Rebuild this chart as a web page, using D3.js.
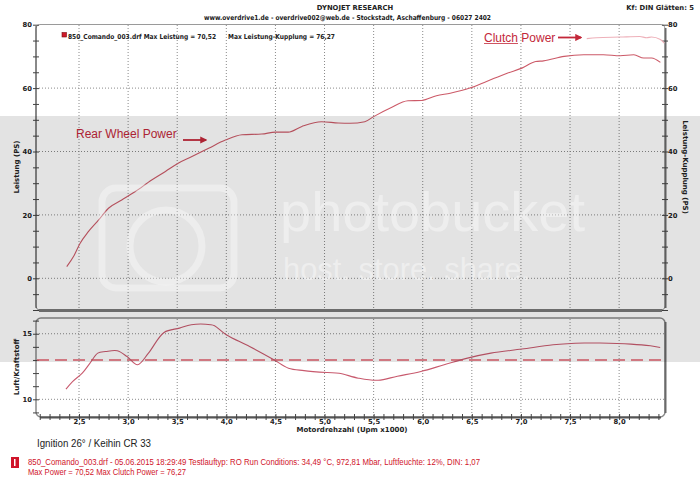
<!DOCTYPE html>
<html><head><meta charset="utf-8">
<script src="https://cdn.jsdelivr.net/npm/d3@7/dist/d3.min.js"></script>
<style>body{margin:0;background:#fff}svg{display:block}</style>
</head><body>
<svg id="c" width="700" height="480"></svg>
<script>
// ---- data ----
const rwpRpm = [2.375, 2.45, 2.51, 2.595, 2.70, 2.80, 2.935, 3.07, 3.24, 3.38, 3.51, 3.65, 3.82, 3.99, 4.16, 4.36, 4.50, 4.63, 4.77, 4.97, 5.14, 5.26, 5.41, 5.50, 5.67, 5.85, 5.99, 6.14, 6.28, 6.48, 6.65, 6.86, 7.01, 7.15, 7.23, 7.44, 7.64, 7.84, 8.01, 8.15, 8.25, 8.33, 8.42];
const rwpPS  = [3.7, 7.2, 11.0, 14.7, 18.4, 22.1, 24.7, 27.3, 31.0, 33.7, 36.3, 38.4, 41.0, 43.6, 45.3, 45.5, 46.1, 46.1, 47.9, 49.4, 49.0, 48.9, 49.4, 51.0, 53.7, 56.0, 56.1, 57.6, 58.4, 60.0, 62.1, 64.7, 66.3, 68.4, 68.6, 70.0, 70.5, 70.52, 70.2, 70.5, 69.5, 69.5, 68.1];
const clutchRpm = [7.67, 7.77, 8.01, 8.21, 8.28, 8.33, 8.42, 8.46];
const clutchPS  = [75.6, 75.9, 76.1, 76.27, 75.9, 76.1, 75.3, 74.2];
const afrRpm = [2.367, 2.434, 2.533, 2.612, 2.691, 2.771, 2.890, 2.989, 3.096, 3.207, 3.366, 3.523, 3.643, 3.840, 3.880, 3.999, 4.237, 4.475, 4.633, 4.791, 5.030, 5.148, 5.346, 5.545, 5.742, 5.981, 6.218, 6.456, 6.694, 7.010, 7.328, 7.645, 7.803, 8.120, 8.318, 8.418];
const afrVal = [10.77, 11.35, 11.99, 12.76, 13.52, 13.64, 13.70, 13.26, 12.63, 13.52, 15.10, 15.43, 15.69, 15.69, 15.61, 14.92, 14.03, 13.06, 12.37, 12.19, 12.04, 11.99, 11.61, 11.45, 11.76, 12.12, 12.63, 13.14, 13.52, 13.83, 14.16, 14.29, 14.29, 14.21, 14.08, 13.95];
const afrTarget = 13.0;
const xTicks = [2.5, 3.0, 3.5, 4.0, 4.5, 5.0, 5.5, 6.0, 6.5, 7.0, 7.5, 8.0];
const xTickLabels = ["2,5","3,0","3,5","4,0","4,5","5,0","5,5","6,0","6,5","7,0","7,5","8,0"];
const psTicks = [0, 20, 40, 60, 80];
const afrTicks = [10, 15];

// ---- layout ----
const svg = d3.select("#c");
const L = 36, R = 665;
const x = d3.scaleLinear().domain([2.062, 8.467]).range([L, R]);
const yP = d3.scaleLinear().domain([-10, 80]).range([310, 24.7]);
const yA = d3.scaleLinear().domain([8.65, 16.2]).range([417, 318]);
const bold = "'DejaVu Sans', Verdana, sans-serif";
const arial = "'Liberation Sans', Arial, sans-serif";
const red = "#c3283a";

// header
svg.append("text").attr("x", 355).attr("y", 10).attr("text-anchor", "middle")
  .attr("font-family", bold).attr("font-weight", "bold").attr("font-size", 6.8).attr("fill", "#222")
  .text("DYNOJET RESEARCH");
svg.append("text").attr("x", 204).attr("y", 19.5).attr("textLength", 287).attr("lengthAdjust", "spacingAndGlyphs")
  .attr("font-family", bold).attr("font-weight", "bold").attr("font-size", 6.8).attr("fill", "#222")
  .text("www.overdrive1.de - overdrive002@web.de - Stockstadt, Aschaffenburg - 06027 2402");
svg.append("text").attr("x", 694).attr("y", 10).attr("text-anchor", "end")
  .attr("font-family", bold).attr("font-weight", "bold").attr("font-size", 6.8).attr("fill", "#222")
  .text("Kf: DIN  Glätten: 5");

// grids
const g = svg.append("g");
function vgrid(y0, y1) {
  g.append("g").selectAll("line").data(xTicks).join("line")
    .attr("x1", d => x(d)).attr("x2", d => x(d)).attr("y1", y0).attr("y2", y1)
    .attr("stroke", "#8a8a8a").attr("stroke-width", 1).attr("stroke-dasharray", "1,2");
}
vgrid(25, 309); vgrid(319, 416);
g.append("g").selectAll("line").data([0, 20, 40, 60]).join("line")
  .attr("x1", L).attr("x2", R).attr("y1", d => yP(d)).attr("y2", d => yP(d))
  .attr("stroke", "#8a8a8a").attr("stroke-dasharray", "1,2");
g.append("g").selectAll("line").data(afrTicks).join("line")
  .attr("x1", L).attr("x2", R).attr("y1", d => yA(d)).attr("y2", d => yA(d))
  .attr("stroke", "#8a8a8a").attr("stroke-dasharray", "1,2");

// panel frames
svg.append("rect").attr("x", L).attr("y", 24.5).attr("width", R - L).attr("height", 285.5).attr("rx", 4)
  .attr("fill", "none").attr("stroke", "#9a9a9a").attr("stroke-width", 1);
svg.append("line").attr("x1", L + 3).attr("x2", R - 3).attr("y1", 310.5).attr("y2", 310.5).attr("stroke", "#7a7a7a").attr("stroke-width", 3);
svg.append("line").attr("x1", R + 0.5).attr("x2", R + 0.5).attr("y1", 28).attr("y2", 308).attr("stroke", "#6a6a6a").attr("stroke-width", 2);
svg.append("rect").attr("x", L).attr("y", 318).attr("width", R - L).attr("height", 99).attr("rx", 5)
  .attr("fill", "none").attr("stroke", "#8a8a8a").attr("stroke-width", 1.5);
svg.append("line").attr("x1", R + 0.5).attr("x2", R + 0.5).attr("y1", 322).attr("y2", 413).attr("stroke", "#6a6a6a").attr("stroke-width", 2);
svg.append("line").attr("x1", L + 4).attr("x2", R - 4).attr("y1", 417.5).attr("y2", 417.5).attr("stroke", "#555").attr("stroke-width", 2);
svg.append("line").attr("x1", L).attr("x2", L).attr("y1", 26).attr("y2", 308).attr("stroke", "#444").attr("stroke-width", 1);

// axes
function styleAxis(sel) {
  sel.select(".domain").remove();
  sel.selectAll("line").attr("stroke", "#444");
  sel.selectAll("text").attr("font-family", bold).attr("font-weight", "bold").attr("font-size", 6.8).attr("fill", "#222");
}
const psMinor = d3.range(-10, 81, 5);
[3, -3].forEach(s => {
  svg.append("g").attr("transform", `translate(${L},0)`).call(d3.axisLeft(yP).tickValues(psMinor).tickSize(s).tickFormat("")).call(styleAxis);
  svg.append("g").attr("transform", `translate(${R},0)`).call(d3.axisRight(yP).tickValues(psMinor).tickSize(s).tickFormat("")).call(styleAxis);
  svg.append("g").attr("transform", `translate(${L},0)`).call(d3.axisLeft(yA).tickValues(d3.range(9, 17, 1)).tickSize(s).tickFormat("")).call(styleAxis);
  svg.append("g").attr("transform", `translate(0,417)`).call(d3.axisBottom(x).tickValues(d3.range(21, 85).map(d => d / 10)).tickSize(s).tickFormat("")).call(styleAxis);
});
svg.append("g").attr("transform", `translate(${L - 3},0)`).call(d3.axisLeft(yP).tickValues(psTicks).tickSize(0).tickPadding(1)).call(styleAxis);
svg.append("g").attr("transform", `translate(${R + 2},0)`).call(d3.axisRight(yP).tickValues(psTicks).tickSize(0).tickPadding(1)).call(styleAxis);
svg.append("g").attr("transform", `translate(${L - 3},0)`).call(d3.axisLeft(yA).tickValues(afrTicks).tickSize(0).tickPadding(1)).call(styleAxis);
svg.append("g").attr("transform", `translate(0,418)`).call(d3.axisBottom(x).tickValues(xTicks).tickSize(0).tickPadding(1)
  .tickFormat((d, i) => xTickLabels[i])).call(styleAxis);

// axis titles
function title(t, tx, ty, rot) {
  svg.append("text").attr("transform", `translate(${tx},${ty}) rotate(${rot})`).attr("text-anchor", "middle")
    .attr("font-family", bold).attr("font-weight", "bold").attr("font-size", 7).attr("fill", "#222").text(t);
}
title("Leistung (PS)", 18.5, 167, -90);
title("Leistung-Kupplung (PS)", 683, 167, 90);
title("Luft/Kraftstoff", 18.5, 367, -90);
svg.append("text").attr("x", 352).attr("y", 432).attr("text-anchor", "middle")
  .attr("font-family", bold).attr("font-weight", "bold").attr("font-size", 7).attr("fill", "#222")
  .text("Motordrehzahl (Upm x1000)");

// legend in panel
svg.append("rect").attr("x", 62).attr("y", 32.5).attr("width", 4.5).attr("height", 4.5).attr("fill", "#d01a2a").attr("stroke", "#7a0a12").attr("stroke-width", 0.6);
svg.append("text").attr("x", 68).attr("y", 38.5).attr("textLength", 148).attr("lengthAdjust", "spacingAndGlyphs")
  .attr("font-family", bold).attr("font-weight", "bold").attr("font-size", 6.8).attr("fill", "#222")
  .text("850_Comando_003.drf Max Leistung = 70,52");
svg.append("text").attr("x", 228).attr("y", 38.5).attr("textLength", 107).attr("lengthAdjust", "spacingAndGlyphs")
  .attr("font-family", bold).attr("font-weight", "bold").attr("font-size", 6.8).attr("fill", "#222")
  .text("Max Leistung-Kupplung = 76,27");

// curves
const line = d3.line().curve(d3.curveMonotoneX);
svg.append("path").attr("d", line(clutchRpm.map((r, i) => [x(r), yP(clutchPS[i])])))
  .attr("fill", "none").attr("stroke", "#eeb0b9").attr("stroke-width", 1.1);
svg.append("path").attr("d", line(rwpRpm.map((r, i) => [x(r), yP(rwpPS[i])])))
  .attr("fill", "none").attr("stroke", "#cc5a68").attr("stroke-width", 1.1);
svg.append("line").attr("x1", L + 1).attr("x2", R).attr("y1", yA(afrTarget)).attr("y2", yA(afrTarget))
  .attr("stroke", "#e4606e").attr("stroke-width", 1.4).attr("stroke-dasharray", "12,6");
svg.append("path").attr("d", d3.line().curve(d3.curveCatmullRom)(afrRpm.map((r, i) => [x(r), yA(afrVal[i])])))
  .attr("fill", "none").attr("stroke", "#c85a6e").attr("stroke-width", 1.1);

// annotations
svg.append("defs").append("marker").attr("id", "ah").attr("viewBox", "0 0 10 10").attr("refX", 8).attr("refY", 5)
  .attr("markerWidth", 4).attr("markerHeight", 4).attr("orient", "auto")
  .append("path").attr("d", "M0,0 L10,5 L0,10 z").attr("fill", red);
svg.append("text").attr("x", 76).attr("y", 137.5).attr("font-family", arial).attr("font-size", 12).attr("fill", red).text("Rear Wheel Power");
svg.append("line").attr("x1", 183).attr("x2", 206).attr("y1", 140).attr("y2", 140).attr("stroke", red).attr("stroke-width", 1.8).attr("marker-end", "url(#ah)");
svg.append("text").attr("x", 484).attr("y", 41.5).attr("font-family", arial).attr("font-size", 12).attr("fill", red).text("Clutch Power");
svg.append("line").attr("x1", 484).attr("x2", 518).attr("y1", 43.5).attr("y2", 43.5).attr("stroke", red).attr("stroke-width", 0.8);
svg.append("line").attr("x1", 558).attr("x2", 581).attr("y1", 37.5).attr("y2", 37.5).attr("stroke", red).attr("stroke-width", 1.8).attr("marker-end", "url(#ah)");

// footer
svg.append("text").attr("x", 37).attr("y", 447).attr("textLength", 114).attr("lengthAdjust", "spacingAndGlyphs")
  .attr("font-family", arial).attr("font-size", 10.5).attr("fill", "#222").text("Ignition 26° / Keihin CR 33");
svg.append("rect").attr("x", 11).attr("y", 457).attr("width", 8).attr("height", 11).attr("fill", "#d0142a");
svg.append("rect").attr("x", 14).attr("y", 459).attr("width", 1.5).attr("height", 7).attr("fill", "#fff");
svg.append("text").attr("x", 28).attr("y", 465).attr("textLength", 452).attr("lengthAdjust", "spacingAndGlyphs")
  .attr("font-family", arial).attr("font-size", 8.5).attr("fill", "#d0142a")
  .text("850_Comando_003.drf - 05.06.2015 18:29:49  Testlauftyp: RO  Run Conditions: 34,49 °C, 972,81 Mbar,  Luftfeuchte: 12%, DIN: 1,07");
svg.append("text").attr("x", 28).attr("y", 474.5).attr("textLength", 158).attr("lengthAdjust", "spacingAndGlyphs")
  .attr("font-family", arial).attr("font-size", 8.5).attr("fill", "#d0142a")
  .text("Max Power = 70,52  Max Clutch Power = 76,27");

// photo-host watermark band over the image
const wm = svg.append("g").attr("pointer-events", "none");
wm.append("rect").attr("x", 0).attr("y", 116).attr("width", 700).attr("height", 246).attr("fill", "#000").attr("opacity", 0.11);
wm.append("rect").attr("x", 102).attr("y", 188).attr("width", 132).attr("height", 100).attr("rx", 14)
  .attr("fill", "none").attr("stroke", "#fff").attr("stroke-width", 7).attr("opacity", 0.35);
wm.append("circle").attr("cx", 166).attr("cy", 246).attr("r", 36)
  .attr("fill", "none").attr("stroke", "#fff").attr("stroke-width", 7).attr("opacity", 0.35);
wm.append("text").attr("x", 280).attr("y", 231).attr("textLength", 305).attr("lengthAdjust", "spacingAndGlyphs")
  .attr("font-family", arial).attr("font-size", 56).attr("fill", "#fff").attr("opacity", 0.4).text("photobucket");
wm.append("text").attr("x", 283).attr("y", 280).attr("textLength", 247).attr("lengthAdjust", "spacingAndGlyphs")
  .attr("font-family", arial).attr("font-size", 31).attr("fill", "#fff").attr("opacity", 0.4).text("host. store. share.");
</script>
</body></html>
